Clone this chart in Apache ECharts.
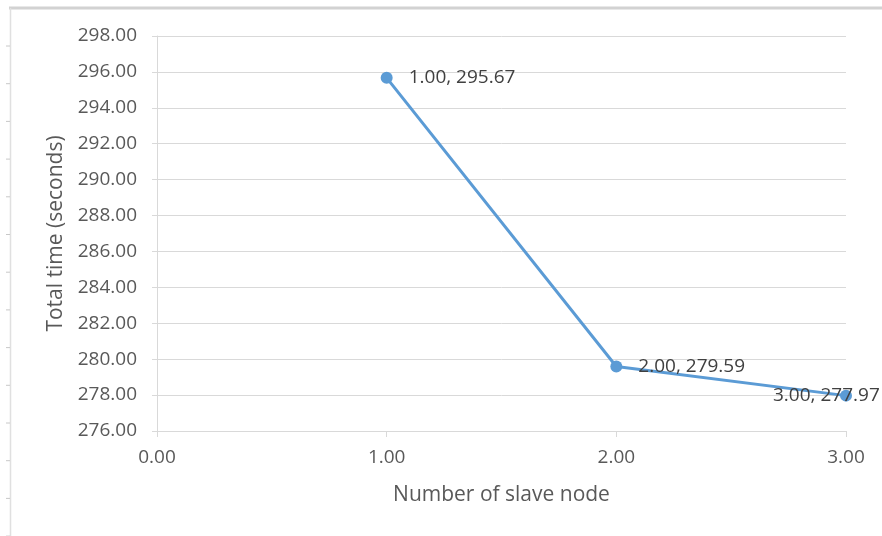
<!DOCTYPE html>
<html>
<head>
<meta charset="utf-8">
<script src="https://cdn.jsdelivr.net/npm/echarts@6/dist/echarts.min.js"></script>
<style>html,body{margin:0;padding:0;background:#fff;}#c{width:882px;height:536px;}</style>
</head>
<body>
<div id="c"></div>
<script>
var slaveNodes = [1, 2, 3];
var totalTimes = [295.67, 279.59, 277.97];
var xAxisName = 'Number of slave node';
var yAxisName = 'Total time (seconds)';

var labelOffsets = [[0, 0], [0, 0], [-95, 0]];
var data = slaveNodes.map(function (x, i) {
  return {
    value: [x, totalTimes[i]],
    label: { offset: labelOffsets[i] }
  };
});

var font = '"Open Sans", "Noto Sans", sans-serif';
var chart = echarts.init(document.getElementById('c'), null, { renderer: 'canvas' });

var frameTicks = [];
for (var k = 0; k < 14; k++) {
  frameTicks.push({
    type: 'line', silent: true,
    shape: { x1: 6, y1: 46 + k * 37.7, x2: 10, y2: 46 + k * 37.7 },
    style: { stroke: '#c8c8c8', lineWidth: 1 }
  });
}

chart.setOption({
  animation: false,
  backgroundColor: '#ffffff',
  graphic: [
    { type: 'line', silent: true, shape: { x1: 9, y1: 8, x2: 882, y2: 8 }, style: { stroke: '#d2d2d2', lineWidth: 3 } },
    { type: 'line', silent: true, shape: { x1: 10.5, y1: 8, x2: 10.5, y2: 536 }, style: { stroke: '#e0e0e0', lineWidth: 1.5 } }
  ].concat(frameTicks),
  grid: { left: 157, right: 36, top: 36, bottom: 105, containLabel: false },
  xAxis: {
    type: 'value', min: 0, max: 3, interval: 1,
    name: xAxisName, nameLocation: 'middle', nameGap: 54,
    nameTextStyle: { color: '#595959', fontSize: 21, fontFamily: font },
    axisLine: { show: true, lineStyle: { color: '#d9d9d9', width: 1 } },
    axisTick: { show: true, length: 6, lineStyle: { color: '#d9d9d9' } },
    axisLabel: { color: '#595959', fontSize: 19, fontFamily: font, margin: 17,
      formatter: function (v) { return v.toFixed(2); } },
    splitLine: { show: false }
  },
  yAxis: {
    type: 'value', min: 276, max: 298, interval: 2,
    name: yAxisName, nameLocation: 'middle', nameGap: 88, nameRotate: 90,
    nameTextStyle: { color: '#595959', fontSize: 21, fontFamily: font },
    axisLine: { show: true, lineStyle: { color: '#d9d9d9', width: 1 } },
    axisTick: { show: true, inside: false, length: 5, lineStyle: { color: '#d9d9d9' } },
    axisLabel: { color: '#595959', fontSize: 19, fontFamily: font, margin: 20,
      formatter: function (v) { return v.toFixed(2); } },
    splitLine: { show: true, lineStyle: { color: '#d9d9d9', width: 1 } }
  },
  series: [{
    type: 'line',
    data: data,
    symbol: 'circle', symbolSize: 12,
    lineStyle: { color: '#5b9bd5', width: 3 },
    itemStyle: { color: '#5b9bd5' },
    label: {
      show: true, position: 'right', distance: 16,
      color: '#404040', fontSize: 19, fontFamily: font,
      formatter: function (p) { return p.value[0].toFixed(2) + ', ' + p.value[1].toFixed(2); }
    },
    clip: false,
    z: 3
  }]
});
</script>
</body>
</html>
